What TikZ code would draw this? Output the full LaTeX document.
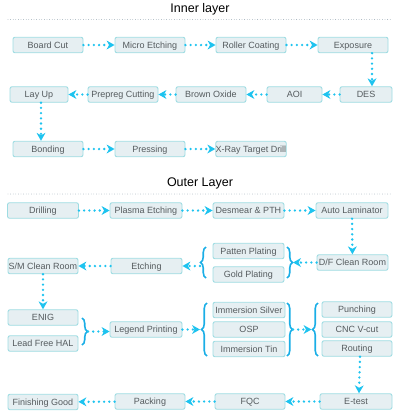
\documentclass[tikz,border=0pt]{standalone}
\usepackage{fontspec}
\setmainfont{Liberation Sans}
\usetikzlibrary{arrows.meta,decorations.pathreplacing,calc}
\definecolor{boxfill}{HTML}{E6EFF2}
\definecolor{boxline}{HTML}{9EDCE2}
\definecolor{boxtext}{HTML}{555B5E}
\definecolor{arrowc}{HTML}{1EC3EF}
\definecolor{bracec}{HTML}{1AAEE6}
\definecolor{sepc}{HTML}{9AAAB4}
\begin{document}
\begin{tikzpicture}[x=1pt,y=-1pt,
  proc/.style={draw=boxline, fill=boxfill, line width=0.9pt, rounded corners=2pt,
    minimum width=#1, minimum height=15.5pt, inner xsep=0pt, inner ysep=0pt,
    text height=6.5pt, text depth=0pt,
    text=boxtext, font=\fontsize{9}{10}\selectfont},
  proc/.default=70pt,
  flow/.style={draw=arrowc, line width=2.6pt, line cap=round, dash pattern=on 0pt off 5.2pt,
    -{Stealth[length=8pt,width=9pt,inset=2.5pt,line width=0pt]}},
  grp/.style={draw=bracec, line width=1.6pt, decorate,
    decoration={brace, amplitude=5.5pt}},
  sep/.style={draw=sepc, line width=0.8pt, line cap=round, dash pattern=on 0pt off 2.6pt},
  ttl/.style={font=\fontsize{12.5}{14}\selectfont, text=black}
]
\useasboundingbox (0,0) rectangle (400,418);
% titles
\node[ttl] (t1) at (200,9) {Inner layer};
\node[ttl] (t2) at (200,183) {Outer Layer};
\coordinate (s1a) at (8,19.5); \coordinate (s1b) at (392,19.5);
\coordinate (s2a) at (8,194); \coordinate (s2b) at (392,194);
\draw[sep] (s1a) -- (s1b);
\draw[sep] (s2a) -- (s2b);
% inner layer
\node[proc] (bc) at (48,45) {Board Cut};
\node[proc] (me) at (150,45) {Micro Etching};
\node[proc] (rc) at (251,45) {Roller Coating};
\node[proc] (ex) at (353,45) {Exposure};
\node[proc=58pt] (lu) at (39,94.5) {Lay Up};
\node[proc] (pc) at (123,94.5) {Prepreg Cutting};
\node[proc] (bo) at (211,94.5) {Brown Oxide};
\node[proc=55pt] (aoi) at (294.5,94.5) {AOI};
\node[proc=52pt] (des) at (366,94.5) {DES};
\node[proc] (bd) at (48,149) {Bonding};
\node[proc] (pr) at (150,149) {Pressing};
\node[proc] (xr) at (251,149) {X-Ray Target Drill};
\draw[flow] (bc) -- (me);
\draw[flow] (me) -- (rc);
\draw[flow] (rc) -- (ex);
\draw[flow] ([xshift=19pt]ex.south) -- ([xshift=6pt]des.north);
\draw[flow] (des) -- (aoi);
\draw[flow] (aoi) -- (bo);
\draw[flow] (bo) -- (pc);
\draw[flow] (pc) -- (lu);
\draw[flow] ([xshift=2pt]lu.south) -- ([xshift=-7pt]bd.north);
\draw[flow] (bd) -- (pr);
\draw[flow] (pr) -- (xr);
% outer layer
\node[proc=71pt] (dr) at (43,210.5) {Drilling};
\node[proc=72pt] (pe) at (146,210.5) {Plasma Etching};
\node[proc=71pt] (dp) at (248.5,210.5) {Desmear \& PTH};
\node[proc=72pt] (al) at (352,210.5) {Auto Laminator};
\node[proc] (sm) at (43,266) {S/M Clean Room};
\node[proc=71pt] (et) at (146.5,266) {Etching};
\node[proc=71pt] (pp) at (248.5,251) {Patten Plating};
\node[proc=71pt] (gp) at (248.5,274.5) {Gold Plating};
\node[proc=71pt] (df) at (352.5,262.5) {D/F Clean Room};
\node[proc] (enig) at (43,317.5) {ENIG};
\node[proc] (lf) at (43,343.5) {Lead Free HAL};
\node[proc=72pt] (lp) at (146,329.5) {Legend Printing};
\node[proc=72pt] (is) at (249,310) {Immersion Silver};
\node[proc=72pt] (osp) at (249,329.5) {OSP};
\node[proc=72pt] (it) at (249,349) {Immersion Tin};
\node[proc] (pu) at (357,309.5) {Punching};
\node[proc] (cnc) at (357,329.5) {CNC V-cut};
\node[proc] (ro) at (357,348.5) {Routing};
\node[proc=72pt] (et2) at (356,401.5) {E-test};
\node[proc] (fqc) at (250,401.5) {FQC};
\node[proc] (pk) at (150,401.5) {Packing};
\node[proc] (fg) at (43,402) {Finishing Good};
% braces
\draw[grp] (206,278) -- (206,247);
\draw[grp] (287,247) -- (287,278);
\draw[grp] (82,318) -- (82,345);
\draw[grp] (207,356) -- (207,303);
\draw[grp] (287,303) -- (287,356);
\draw[grp] (318,356) -- (318,303);
\coordinate (plL) at (200,266);
\coordinate (plR) at (293,262.5);
\coordinate (enR) at (88,331.5);
\coordinate (imL) at (200,329.5);
\coordinate (imR) at (293,329.5);
\coordinate (puL) at (311.5,329.5);
% outer flows
\draw[flow] (dr) -- (pe);
\draw[flow] (pe) -- (dp);
\draw[flow] (dp) -- (al);
\draw[flow] (al) -- (df);
\draw[flow] (df) -- (plR);
\draw[flow] (plL) -- (et);
\draw[flow] (et) -- (sm);
\draw[flow] (sm) -- (enig);
\draw[flow] (enR) -- (lp.west |- enR);
\draw[flow] (lp) -- (imL);
\draw[flow] (imR) -- (puL);
\draw[flow] ([xshift=3pt]ro.south) -- ([xshift=3pt]et2.north);
\draw[flow] (et2) -- (fqc);
\draw[flow] (fqc) -- (pk);
\draw[flow] (pk) -- (fg);
\end{tikzpicture}
\end{document}
